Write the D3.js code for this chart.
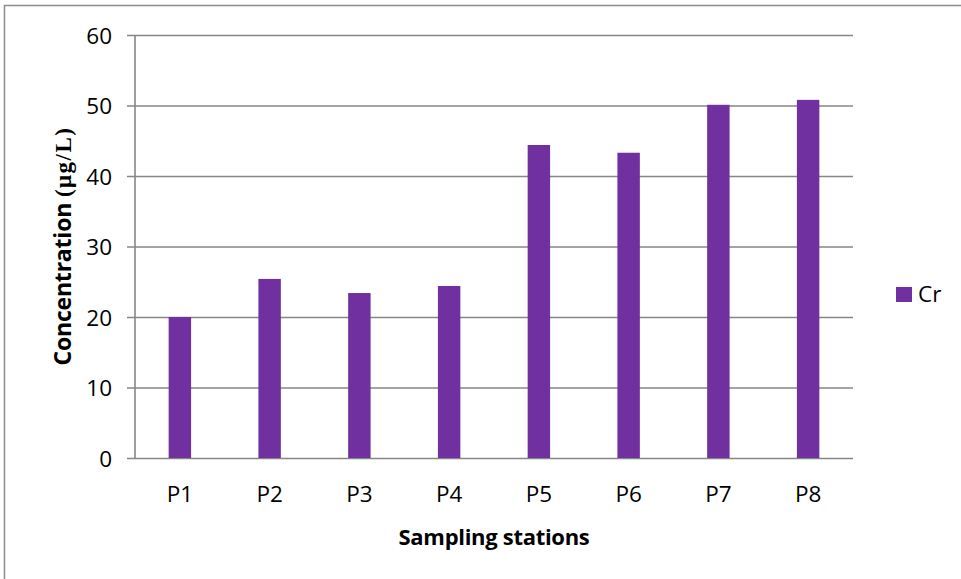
<!DOCTYPE html>
<html>
<head>
<meta charset="utf-8">
<script src="https://cdn.jsdelivr.net/npm/d3@7"></script>
<style>
  html, body { margin: 0; padding: 0; background: #fff; }
  svg { display: block; }
  text { font-family: "Open Sans", "Noto Sans", sans-serif; fill: #000; }
</style>
</head>
<body>
<svg id="chart" width="961" height="579"></svg>
<script>
// Chromium concentration per sampling station
const stations = ["P1", "P2", "P3", "P4", "P5", "P6", "P7", "P8"];
const crValues = [20.0, 25.4, 23.4, 24.4, 44.4, 43.3, 50.1, 50.8];
const yTicks = [0, 10, 20, 30, 40, 50, 60];
const seriesName = "Cr";

const svg = d3.select("#chart");
const W = 961, H = 579;
const plot = { left: 135, right: 853, top: 35, bottom: 458 };
const barColor = "#7030A0";
const gridColor = "#868686";
const tickFont = 22.5;

// outer chart frame
svg.append("rect")
  .attr("x", 4.5).attr("y", 5.5)
  .attr("width", W + 10).attr("height", H + 10)
  .attr("fill", "none").attr("stroke", "#8c8c8c").attr("stroke-width", 1.5);

const x = d3.scaleBand().domain(stations)
  .range([plot.left, plot.right])
  .paddingInner(0.75).paddingOuter(0.375);
const y = d3.scaleLinear().domain([0, 60]).range([plot.bottom, plot.top]);

// horizontal gridlines with short left ticks
const yAxis = d3.axisLeft(y).tickValues(yTicks)
  .tickSize(-(plot.right - plot.left + 8)).tickSizeOuter(0).tickPadding(15);
const gy = svg.append("g")
  .attr("transform", `translate(${plot.left - 8},0)`)
  .call(yAxis);
gy.select(".domain").remove();
gy.selectAll(".tick line").attr("stroke", gridColor).attr("stroke-width", 1.6);
gy.selectAll(".tick text")
  .attr("font-size", tickFont).attr("fill", "#000").attr("dy", "0.36em")
  .style("font-family", '"Open Sans", sans-serif');

// vertical value axis line
svg.append("line")
  .attr("x1", plot.left).attr("x2", plot.left)
  .attr("y1", plot.top).attr("y2", plot.bottom)
  .attr("stroke", gridColor).attr("stroke-width", 1.6);

// bars
svg.append("g").selectAll("rect")
  .data(stations)
  .join("rect")
  .attr("x", d => x(d))
  .attr("width", x.bandwidth())
  .attr("y", (d, i) => y(crValues[i]))
  .attr("height", (d, i) => y(0) - y(crValues[i]))
  .attr("fill", barColor);

// category axis labels
const xAxis = d3.axisBottom(x).tickSize(0);
const gx = svg.append("g")
  .attr("transform", `translate(0,${plot.bottom})`)
  .call(xAxis);
gx.select(".domain").remove();
gx.selectAll(".tick text")
  .attr("y", 44).attr("dy", 0)
  .attr("font-size", tickFont).attr("fill", "#000")
  .style("font-family", '"Open Sans", sans-serif');

// axis titles
svg.append("text")
  .attr("x", 494).attr("y", 545)
  .attr("text-anchor", "middle")
  .attr("font-size", 22).attr("font-weight", "bold")
  .attr("letter-spacing", -0.3)
  .text("Sampling stations");

const yt = svg.append("text")
  .attr("transform", "translate(71,246) rotate(-90)")
  .attr("text-anchor", "middle")
  .attr("font-size", 23).attr("font-weight", "bold");
yt.append("tspan").attr("letter-spacing", -0.2).text("Concentration ");
yt.append("tspan")
  .style("font-family", '"Liberation Serif", "DejaVu Serif", serif')
  .attr("font-size", 23).attr("letter-spacing", 1.5)
  .text("(μg/L)");

// legend
const lg = svg.append("g").attr("transform", "translate(896,287)");
lg.append("rect").attr("width", 16).attr("height", 15).attr("fill", barColor);
lg.append("text").attr("x", 22).attr("y", 15)
  .attr("font-size", tickFont).text(seriesName);
</script>
</body>
</html>
